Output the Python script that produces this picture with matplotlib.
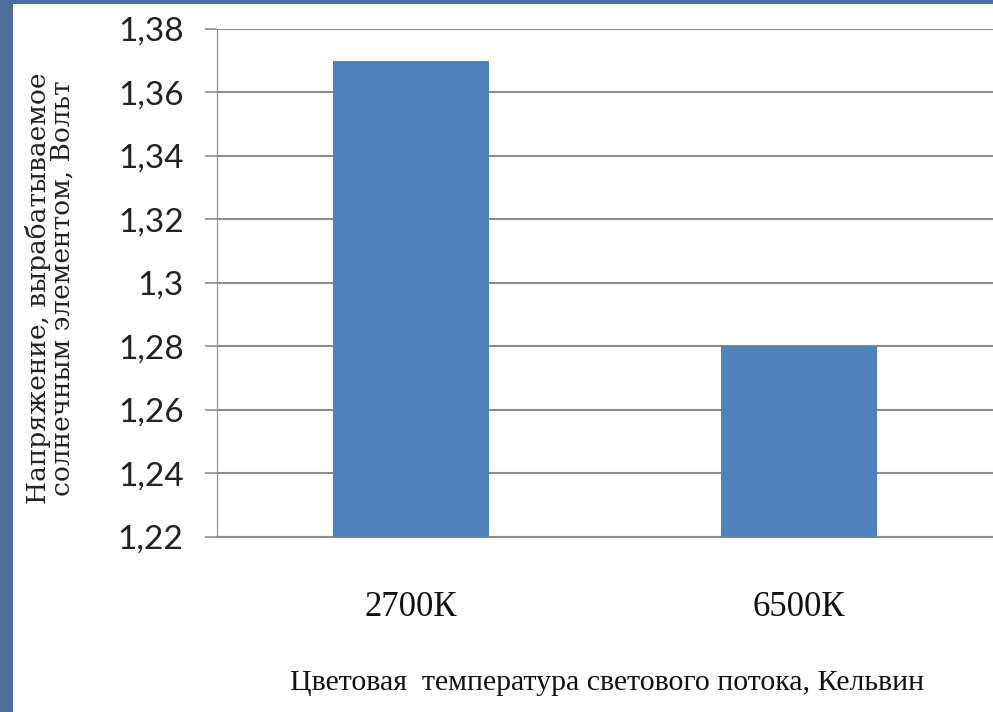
import matplotlib.pyplot as plt
from matplotlib.patches import Rectangle

categories = ['2700К', '6500К']
values = [1.37, 1.28]
yticks = [1.22, 1.24, 1.26, 1.28, 1.30, 1.32, 1.34, 1.36, 1.38]
ytick_labels = ['1,22', '1,24', '1,26', '1,28', '1,3', '1,32', '1,34', '1,36', '1,38']

fig = plt.figure(figsize=(9.93, 7.12), dpi=100)
fig.patch.set_facecolor('#4c6e9c')
# white slide area with blue strip on the left and top
fig.patches.append(Rectangle((13 / 993, 0), 1, 1 - 4 / 712, transform=fig.transFigure,
                             facecolor='white', edgecolor='none', zorder=-10))

ax = fig.add_axes([217 / 993, 1 - 537 / 712, 1 - 217 / 993, (537 - 29) / 712])
ax.set_zorder(5)
ax.set_facecolor('white')

ax.bar(range(len(categories)), values, width=0.4, color='#4f81bd', zorder=3)
ax.set_xlim(-0.5, 1.5)
ax.set_ylim(1.22, 1.38)

ax.set_yticks(yticks)
ax.set_yticklabels(ytick_labels, fontsize=24, family='Lato', color='#222222')
ax.set_xticks(range(len(categories)))
ax.set_xticklabels(categories, fontsize=25, family='Liberation Serif', color='#111111')

ax.grid(axis='y', color='#8c8c8c', linewidth=1.5, zorder=0)
for s in ['top', 'right']:
    ax.spines[s].set_visible(False)
ax.spines['left'].set_color('#8c8c8c')
ax.spines['bottom'].set_color('#8c8c8c')
ax.spines['bottom'].set_linewidth(1.5)
ax.tick_params(axis='y', length=9, color='#8c8c8c', width=1.2, pad=15)
ax.tick_params(axis='x', length=0, pad=39)

ax.set_ylabel('Напряжение, вырабатываемое\nсолнечным элементом, Вольт',
              fontsize=19, family='DejaVu Serif', color='#222222', linespacing=0.95)
ax.yaxis.set_label_coords(-0.183, 0.49)
ax.set_xlabel('Цветовая  температура светового потока, Кельвин',
              fontsize=21.5, family='Liberation Serif', color='#111111')
ax.xaxis.set_label_coords(0.503, -0.262)

fig.savefig('out.png', dpi=100, facecolor=fig.get_facecolor())
